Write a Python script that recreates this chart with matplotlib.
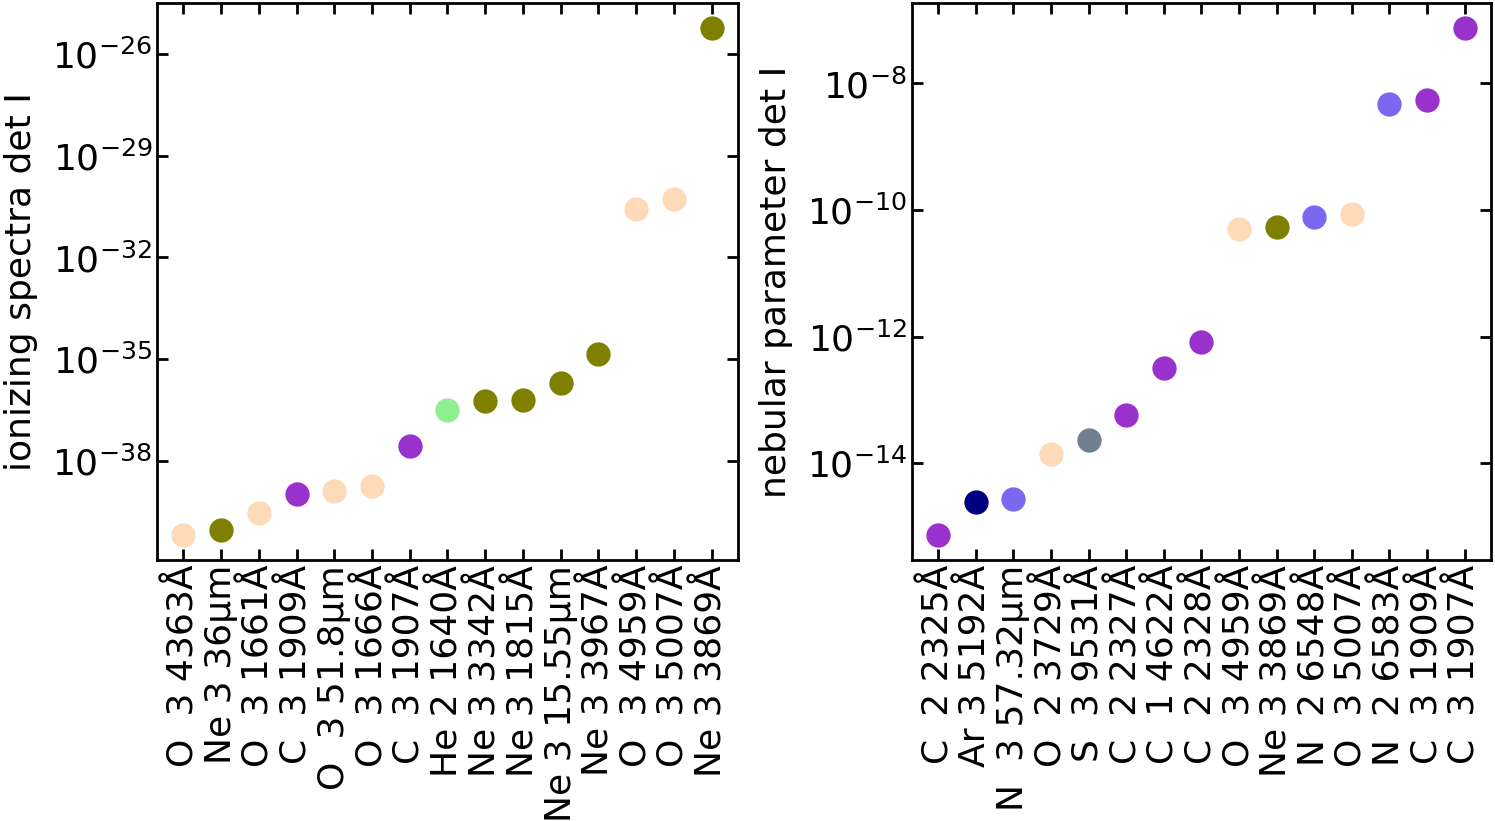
import matplotlib
matplotlib.use("Agg")
import matplotlib.pyplot as plt
import numpy as np

# Left panel: ionizing spectra
left_labels = ["O  3 4363Å", "Ne 3 36μm", "O  3 1661Å", "C  3 1909Å", "O  3 51.8μm",
               "O  3 1666Å", "C  3 1907Å", "He 2 1640Å", "Ne 3 3342Å", "Ne 3 1815Å",
               "Ne 3 15.55μm", "Ne 3 3967Å", "O  3 4959Å", "O  3 5007Å", "Ne 3 3869Å"]
left_log_values = [-40.18, -40.03, -39.53, -38.97, -38.88, -38.74, -37.56, -36.50,
                   -36.24, -36.21, -35.71, -34.85, -30.56, -30.29, -25.24]
left_tick_exps = [-38, -35, -32, -29, -26]

# Right panel: nebular parameter
right_labels = ["C  2 2325Å", "Ar 3 5192Å", "N  3 57.32μm", "O  2 3729Å", "S  3 9531Å",
                "C  2 2327Å", "C  1 4622Å", "C  2 2328Å", "O  3 4959Å", "Ne 3 3869Å",
                "N  2 6548Å", "O  3 5007Å", "N  2 6583Å", "C  3 1909Å", "C  3 1907Å"]
right_log_values = [-15.13, -14.61, -14.57, -13.86, -13.64, -13.24, -12.49, -12.09,
                    -10.30, -10.27, -10.11, -10.06, -8.33, -8.27, -7.13]
right_tick_exps = [-14, -12, -10, -8]

element_colors = {"O": "peachpuff", "Ne": "olive", "C": "darkorchid", "He": "lightgreen",
                  "N": "mediumslateblue", "Ar": "navy", "S": "slategray"}

plt.rcParams["font.family"] = ["DejaVu Sans"]
plt.rcParams["font.size"] = 26
plt.rcParams["axes.linewidth"] = 2
plt.rcParams["mathtext.fontset"] = "dejavusans"

fig = plt.figure(figsize=(14.95, 8.21), dpi=100)
ax1 = fig.add_axes([0.105, 0.318, 0.3886, 0.6783])
ax2 = fig.add_axes([0.610, 0.318, 0.3873, 0.6783])


def draw(ax, labels, logvals, tick_exps, ylabel):
    x = np.arange(len(labels))
    vals = 10.0 ** np.array(logvals)
    for xi, lab, v in zip(x, labels, vals):
        el = lab.split()[0]
        ax.plot([xi], [v], "o", color=element_colors[el], ms=17.5, mew=0)
    ax.set_yscale("log")
    ax.yaxis.set_minor_locator(matplotlib.ticker.NullLocator())
    ax.set_yticks([10.0 ** e for e in tick_exps])
    ax.set_yticklabels([r"$10^{%d}$" % e for e in tick_exps])
    ax.set_xticks(x)
    ax.set_xticklabels(labels, rotation=90)
    ax.set_xlim(-0.7, len(labels) - 0.3)
    ax.set_ylabel(ylabel, labelpad=10)
    ax.tick_params(which="major", direction="in", length=8, width=2,
                   top=True, right=True, labelsize=26)


draw(ax1, left_labels, left_log_values, left_tick_exps, "ionizing spectra det I")
draw(ax2, right_labels, right_log_values, right_tick_exps, "nebular parameter det I")

fig.savefig("out.png", dpi=100)
